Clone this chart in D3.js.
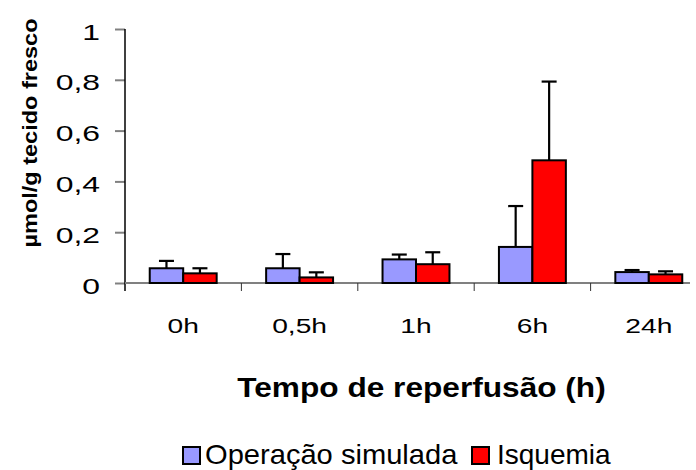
<!DOCTYPE html>
<html>
<head>
<meta charset="utf-8">
<script src="https://cdn.jsdelivr.net/npm/d3@7"></script>
<style>
  html, body { margin: 0; padding: 0; background: #fff; }
  svg { display: block; font-family: "Liberation Sans", Arial, sans-serif; }
</style>
</head>
<body>
<svg id="chart" width="696" height="470"></svg>
<script>
// Reperfusion time points
const categories = ["0h", "0,5h", "1h", "6h", "24h"];
const seriesNames = ["Operação simulada", "Isquemia"];
const seriesColors = ["#9999FF", "#FF0000"];
// Means (µmol/g fresh tissue)
const shamValues = [0.058, 0.058, 0.093, 0.142, 0.043];
const ischemiaValues = [0.038, 0.022, 0.074, 0.483, 0.034];
// Upper error (SD)
const shamErrors = [0.029, 0.056, 0.019, 0.161, 0.008];
const ischemiaErrors = [0.020, 0.020, 0.047, 0.310, 0.012];
// Y axis ticks
const yTicks = [0, 0.2, 0.4, 0.6, 0.8, 1];
const yTickLabels = ["0", "0,2", "0,4", "0,6", "0,8", "1"];

const svg = d3.select("#chart");

const plot = { left: 125, top: 29, bottom: 283, right: 707, axisEnd: 690 };

const y = d3.scaleLinear().domain([0, 1]).range([plot.bottom, plot.top]);
const x = d3.scaleBand().domain(categories).range([plot.left, plot.right]).padding(0);
const groupFrac = 0.575;
const inner = d3.scaleBand()
  .domain(d3.range(seriesNames.length))
  .range([x.bandwidth() * (1 - groupFrac) / 2, x.bandwidth() * (1 + groupFrac) / 2]);

// Helper: horizontally stretched text
function wideText(parent, tx, ty, str, opts) {
  const g = parent.append("g")
    .attr("transform", `translate(${tx},${ty}) rotate(${opts.rotate || 0}) scale(${opts.sx || 1},1)`);
  return g.append("text")
    .attr("x", 0).attr("y", 0)
    .attr("text-anchor", opts.anchor || "start")
    .attr("font-size", opts.size)
    .attr("font-weight", opts.weight || "normal")
    .attr("fill", "#000")
    .text(str);
}

// Y axis
const yAxis = d3.axisLeft(y).tickValues(yTicks).tickSize(10).tickFormat("");
const yg = svg.append("g").attr("transform", `translate(${plot.left},0)`).call(yAxis);
yg.select(".domain").remove();
yg.selectAll(".tick line").attr("stroke", "#808080").attr("stroke-width", 2);
yTicks.forEach((t, i) => {
  wideText(svg, 100, y(t) + 10.5, yTickLabels[i], { size: 22, sx: 1.45, anchor: "end" });
});

// Y axis line
svg.append("line")
  .attr("x1", plot.left).attr("x2", plot.left)
  .attr("y1", y(1)).attr("y2", plot.bottom + 8)
  .attr("stroke", "#000").attr("stroke-width", 1.5);

// X axis line and category separators
svg.append("line")
  .attr("x1", plot.left).attr("x2", plot.axisEnd)
  .attr("y1", y(0)).attr("y2", y(0))
  .attr("stroke", "#808080").attr("stroke-width", 2);
categories.slice(1).forEach(c => {
  svg.append("line")
    .attr("x1", x(c)).attr("x2", x(c))
    .attr("y1", y(0)).attr("y2", y(0) + 8)
    .attr("stroke", "#333").attr("stroke-width", 1);
});

// X tick labels
categories.forEach(c => {
  wideText(svg, x(c) + x.bandwidth() / 2, 333, c, { size: 20, sx: 1.41, anchor: "middle" });
});

// Bars
const series = [
  { values: shamValues, errors: shamErrors },
  { values: ischemiaValues, errors: ischemiaErrors }
];
series.forEach((s, si) => {
  const g = svg.append("g");
  categories.forEach((c, ci) => {
    const v = s.values[ci];
    const bx = x(c) + inner(si);
    const cx = bx + inner.bandwidth() / 2;
    const top = y(v + s.errors[ci]);
    // error bar
    g.append("line")
      .attr("x1", cx).attr("x2", cx)
      .attr("y1", y(v)).attr("y2", top)
      .attr("stroke", "#000").attr("stroke-width", 2.2);
    g.append("line")
      .attr("x1", cx - 7.5).attr("x2", cx + 7.5)
      .attr("y1", top).attr("y2", top)
      .attr("stroke", "#000").attr("stroke-width", 2.2);
    g.append("rect")
      .attr("x", bx).attr("y", y(v))
      .attr("width", inner.bandwidth())
      .attr("height", y(0) - y(v))
      .attr("fill", seriesColors[si])
      .attr("stroke", "#000").attr("stroke-width", 2);
  });
});

// Axis titles
wideText(svg, 421.5, 397, "Tempo de reperfusão (h)", { size: 28, sx: 1.13, anchor: "middle", weight: "bold" });
wideText(svg, 37, 133, "µmol/g tecido fresco", { size: 21, sx: 1.12, anchor: "middle", weight: "bold", rotate: -90 });

// Legend
const legendItems = [
  { sq: 183, tx: 205, sx: 1.04 },
  { sq: 472, tx: 497, sx: 1.0 }
];
legendItems.forEach((it, i) => {
  svg.append("rect")
    .attr("x", it.sq).attr("y", 447)
    .attr("width", 17).attr("height", 17)
    .attr("fill", seriesColors[i])
    .attr("stroke", "#000").attr("stroke-width", 2);
  wideText(svg, it.tx, 464, seriesNames[i], { size: 28, sx: it.sx, anchor: "start" });
});
</script>
</body>
</html>
